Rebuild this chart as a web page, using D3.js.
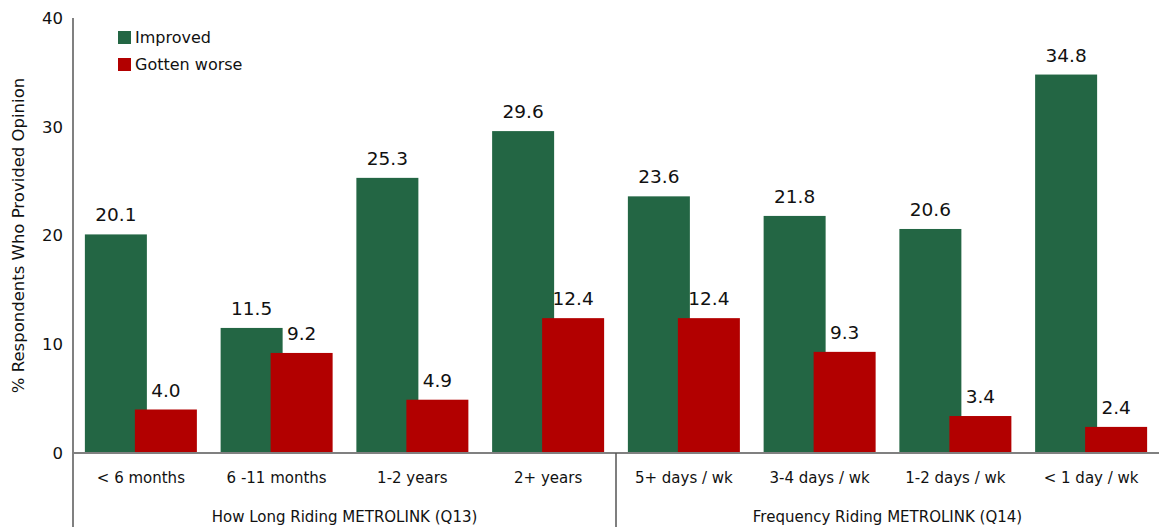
<!DOCTYPE html>
<html><head><meta charset="utf-8">
<script src="https://cdn.jsdelivr.net/npm/d3@7"></script>
<style>body{margin:0;background:#fff}svg text{font-family:"DejaVu Sans",sans-serif;fill:#111}</style>
</head><body><svg id="c" width="1159" height="527"></svg>
<script>
const categories = ["< 6 months","6 -11 months","1-2 years","2+ years","5+ days / wk","3-4 days / wk","1-2 days / wk","< 1 day / wk"];
const improved = [20.1,11.5,25.3,29.6,23.6,21.8,20.6,34.8];
const worse = [4.0,9.2,4.9,12.4,12.4,9.3,3.4,2.4];
const groups = [{name:"How Long Riding METROLINK (Q13)", from:0, to:3},{name:"Frequency Riding METROLINK (Q14)", from:4, to:7}];
const yTicks = [0,10,20,30,40];
const seriesNames = ["Improved","Gotten worse"];
const colors = ["#236644","#B20000"];

const svg = d3.select("#c");
const mLeft = 73, mRight = 1159, mTop = 18, mBottom = 453;
const x = d3.scaleBand().domain(categories).range([mLeft,mRight]).paddingInner(0).paddingOuter(0);
const y = d3.scaleLinear().domain([0,40]).range([mBottom,mTop]);
const bw = 62, overlap = 12;

// y tick labels
svg.selectAll(".yt").data(yTicks).enter().append("text")
  .attr("x",63).attr("y",d=>y(d)).attr("dy","0.35em").attr("text-anchor","end")
  .style("font-size","16.5px").text(d=>d);

// bars
const g = svg.append("g");
categories.forEach((c,i)=>{
  const cx = x(c)+x.bandwidth()/2;
  const gx = cx - (2*bw-overlap)/2;
  const rx = gx + bw - overlap;
  g.append("rect").attr("x",gx).attr("y",y(improved[i])).attr("width",bw).attr("height",y(0)-y(improved[i])).attr("fill",colors[0]);
  g.append("rect").attr("x",rx).attr("y",y(worse[i])).attr("width",bw).attr("height",y(0)-y(worse[i])).attr("fill",colors[1]);
  g.append("text").attr("x",gx+bw/2).attr("y",y(improved[i])-13).attr("text-anchor","middle").style("font-size","18.5px").text(improved[i].toFixed(1));
  g.append("text").attr("x",rx+bw/2).attr("y",y(worse[i])-13).attr("text-anchor","middle").style("font-size","18.5px").text(worse[i].toFixed(1));
  svg.append("text").attr("x",cx).attr("y",478).attr("dy","0.35em").attr("text-anchor","middle").style("font-size","15px").text(c);
});

// axes lines
svg.append("line").attr("x1",mLeft).attr("x2",mLeft).attr("y1",mTop).attr("y2",527).attr("stroke","#808080").attr("stroke-width",2);
svg.append("line").attr("x1",mLeft).attr("x2",mRight).attr("y1",y(0)).attr("y2",y(0)).attr("stroke","#808080").attr("stroke-width",2);
// group separator & labels
groups.forEach((gr,i)=>{
  const x0 = x(categories[gr.from]), x1 = x(categories[gr.to])+x.bandwidth();
  svg.append("text").attr("x",(x0+x1)/2).attr("y",517).attr("dy","0.35em").attr("text-anchor","middle").style("font-size","15px").text(gr.name);
  if(i>0) svg.append("line").attr("x1",x0).attr("x2",x0).attr("y1",y(0)).attr("y2",527).attr("stroke","#555").attr("stroke-width",1.5);
});

// y title
svg.append("text").attr("transform","translate(18,"+((mTop+mBottom)/2)+") rotate(-90)").attr("dy","0.35em").attr("text-anchor","middle").style("font-size","16.5px").text("% Respondents Who Provided Opinion");

// legend
seriesNames.forEach((n,i)=>{
  svg.append("rect").attr("x",118).attr("y",31+i*27).attr("width",13).attr("height",13).attr("fill",colors[i]);
  svg.append("text").attr("x",135).attr("y",37.5+i*27).attr("dy","0.35em").style("font-size","16px").text(n);
});
</script></body></html>
